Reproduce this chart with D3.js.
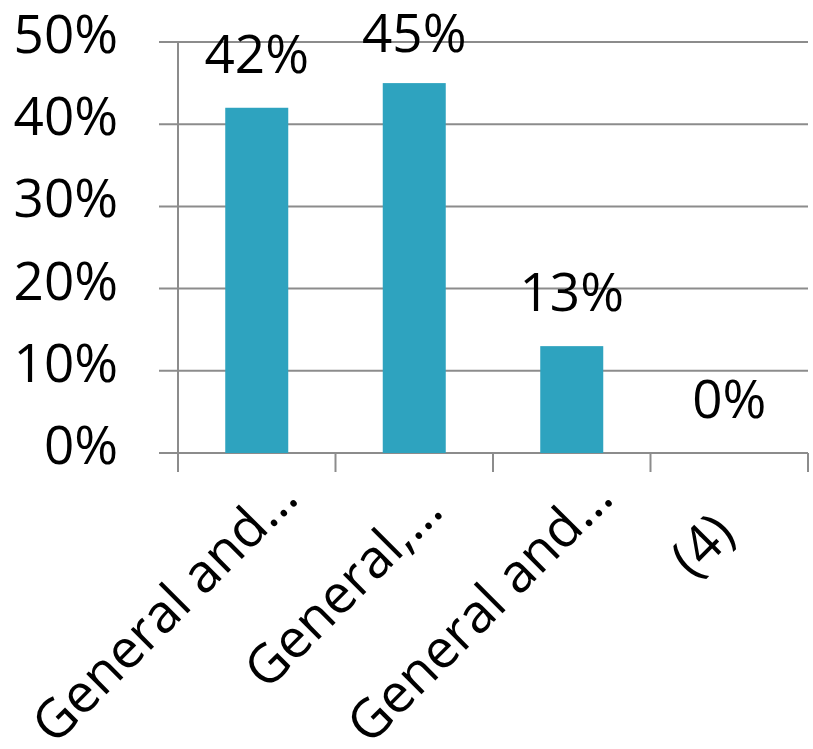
<!DOCTYPE html>
<html><head><meta charset="utf-8">
<script src="https://cdn.jsdelivr.net/npm/d3@7"></script>
<style>body{margin:0;background:#fff}svg{display:block}</style>
</head><body>
<svg id="c" width="813" height="749"></svg>
<script>
const categories = ["General and…", "General,…", "General and…", "(4)"];
const values = [42, 45, 13, 0];
const yTicks = [0, 10, 20, 30, 40, 50];

(function() {
const mL = 178, mR = 808, mT = 42, mB = 453;
const FONT = "'Open Sans', 'Noto Sans', sans-serif";
const FS = 53;
const FSX = 53.5;
const GRID = "#8c8c8c";
const BAR = "#2ea3bf";

const svg = d3.select("#c");
const x = d3.scaleBand().domain(d3.range(categories.length)).range([mL, mR]).paddingInner(0.6).paddingOuter(0.3);
const xb = d3.scaleBand().domain(d3.range(categories.length)).range([mL, mR]);
const y = d3.scaleLinear().domain([0, 50]).range([mB, mT]);

svg.append("g").selectAll("line").data(yTicks).join("line")
  .attr("x1", mL - 19).attr("x2", mR)
  .attr("y1", d => y(d)).attr("y2", d => y(d))
  .attr("stroke", GRID).attr("stroke-width", 2);

svg.append("line").attr("x1", mL).attr("x2", mL).attr("y1", mT).attr("y2", mB + 19)
  .attr("stroke", GRID).attr("stroke-width", 2);

const xt = d3.range(categories.length + 1).map(i => mL + i * xb.bandwidth());
svg.append("g").selectAll("line").data(xt).join("line")
  .attr("x1", d => d).attr("x2", d => d).attr("y1", mB).attr("y2", mB + 19)
  .attr("stroke", GRID).attr("stroke-width", 2);

svg.append("g").selectAll("text").data(yTicks).join("text")
  .attr("x", 118).attr("y", d => y(d) + 11)
  .attr("text-anchor", "end").attr("font-family", FONT).attr("font-size", FS).attr("fill", "#000")
  .text(d => d + "%");

svg.append("g").selectAll("rect").data(values).join("rect")
  .attr("x", (d, i) => x(i)).attr("width", x.bandwidth())
  .attr("y", d => y(d)).attr("height", d => mB - y(d))
  .attr("fill", BAR);

svg.append("g").selectAll("text").data(values).join("text")
  .attr("x", (d, i) => x(i) + x.bandwidth() / 2)
  .attr("y", d => Math.max(y(d) - 35, 52))
  .attr("text-anchor", "middle").attr("font-family", FONT).attr("font-size", FS).attr("fill", "#000")
  .text(d => d + "%");

const xl = svg.append("g").selectAll("text").data(categories).join("text")
  .attr("text-anchor", "end").attr("font-family", FONT).attr("font-size", FSX).attr("fill", "#000")
  .text(d => d);
xl.each(function(d, i) {
  const L = this.getComputedTextLength();
  const cx = xb(i) + xb.bandwidth() / 2;
  const t = Math.min(1, Math.max(0, (L - 80) / 270));
  const ex = cx + 8 + 36 * t;
  const ey = 500 + 36 * (1 - t);
  d3.select(this).attr("transform", `translate(${ex},${ey}) rotate(-45)`);
});
})();
</script>
</body></html>
